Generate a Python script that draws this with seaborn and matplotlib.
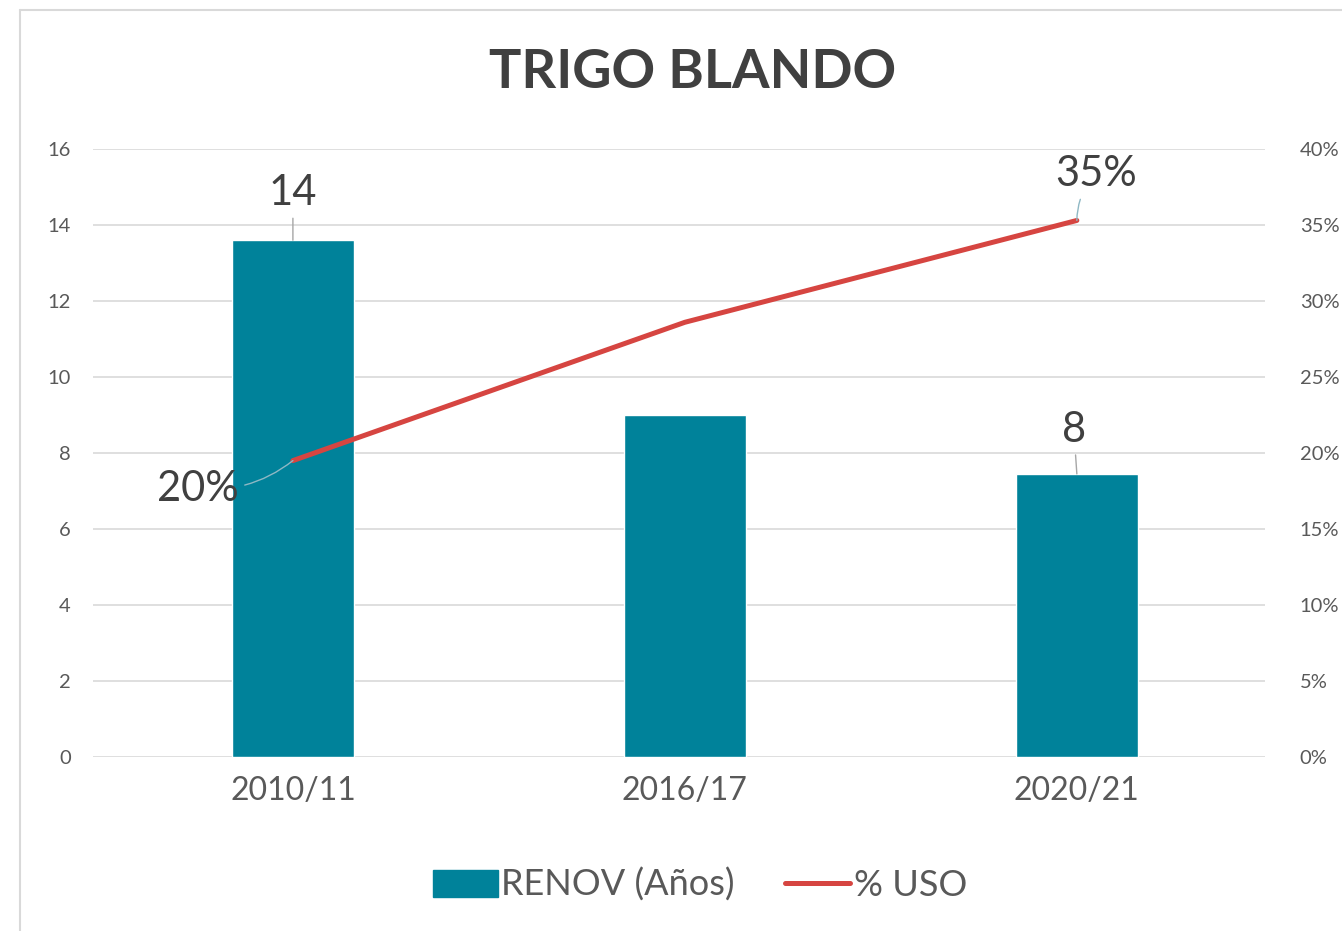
import matplotlib
matplotlib.use("Agg")
import matplotlib.pyplot as plt
import seaborn as sns
from matplotlib.patches import Patch
from matplotlib.lines import Line2D
from matplotlib.ticker import PercentFormatter, MultipleLocator

campanas = ["2010/11", "2016/17", "2020/21"]
renov_anos = [13.6, 9.0, 7.45]
uso_pct = [0.195, 0.286, 0.353]
etiquetas_renov = ["14", "", "8"]
etiquetas_uso = ["20%", "", "35%"]

teal = "#00829a"
rojo = "#d64541"
gris_txt = "#595959"

sns.set_theme(style="white")
plt.rcParams["font.family"] = ["Lato", "DejaVu Sans"]

fig = plt.figure(figsize=(13.42, 9.31), dpi=100)
ax = fig.add_axes([93 / 1342, 1 - 757 / 931, 1172 / 1342, 608 / 931])

sns.barplot(x=campanas, y=renov_anos, color=teal, width=0.31, saturation=1, ax=ax)
ax.set_xlim(-0.51, 2.48)
ax.set_ylim(0, 16)
ax.yaxis.set_major_locator(MultipleLocator(2))
ax.grid(axis="y", color="#d9d9d9", linewidth=1.2)
ax.set_axisbelow(True)
for s in ax.spines.values():
    s.set_visible(False)
ax.tick_params(axis="y", length=0, pad=16, labelsize=14.5, labelcolor=gris_txt)
ax.tick_params(axis="x", length=0, pad=14, labelsize=23, labelcolor=gris_txt)
ax.set_xlabel("")
ax.set_ylabel("")

ax2 = ax.twinx()
sns.lineplot(x=campanas, y=uso_pct, color=rojo, linewidth=3.6, sort=False, ax=ax2)
ax2.set_ylim(0, 0.40)
ax2.yaxis.set_major_locator(MultipleLocator(0.05))
ax2.yaxis.set_major_formatter(PercentFormatter(1.0, decimals=0))
ax2.tick_params(axis="y", length=0, pad=25, labelsize=14.5, labelcolor=gris_txt)
for s in ax2.spines.values():
    s.set_visible(False)
ax2.set_ylabel("")

# etiquetas de datos con lineas guia
offs_renov = [(0, 47), None, (-3, 44)]
for i, (v, t) in enumerate(zip(renov_anos, etiquetas_renov)):
    if t:
        ax.annotate(t, xy=(i, v), xytext=offs_renov[i], textcoords="offset pixels",
                    ha="center", va="center", fontsize=30, color="#404040",
                    arrowprops=dict(arrowstyle="-", color="#a6a6a6", lw=1, shrinkA=2, shrinkB=0))

offs_uso = [(-95, -28), None, (19, 46)]
for i, (v, t) in enumerate(zip(uso_pct, etiquetas_uso)):
    if t:
        ax2.annotate(t, xy=(i, v), xytext=offs_uso[i], textcoords="offset pixels",
                     ha="center", va="center", fontsize=30, color="#404040",
                     arrowprops=dict(arrowstyle="-", color="#8fb8c4", lw=1, shrinkA=2, shrinkB=0,
                                     connectionstyle="arc3,rad=0.2"))

fig.text(693 / 1342, 1 - 72 / 931, "TRIGO BLANDO", ha="center", va="center",
         fontsize=39, fontweight="bold", color="#404040")

handles = [Patch(color=teal), Line2D([], [], color=rojo, linewidth=3.6)]
fig.legend(handles, ["RENOV (Años)", "% USO"], loc="center", ncol=2,
           bbox_to_anchor=(700 / 1342, 1 - 885 / 931), frameon=False,
           fontsize=26, labelcolor=gris_txt, handlelength=1.8, handleheight=0.8,
           handletextpad=0.1, columnspacing=1.4)

# borde del area del grafico
fig.add_artist(Line2D([20 / 1342, 1], [1 - 10 / 931, 1 - 10 / 931], color="#d9d9d9", lw=1.5))
fig.add_artist(Line2D([20 / 1342, 20 / 1342], [0, 1 - 10 / 931], color="#d9d9d9", lw=1.5))

fig.savefig("out.png", dpi=100)
